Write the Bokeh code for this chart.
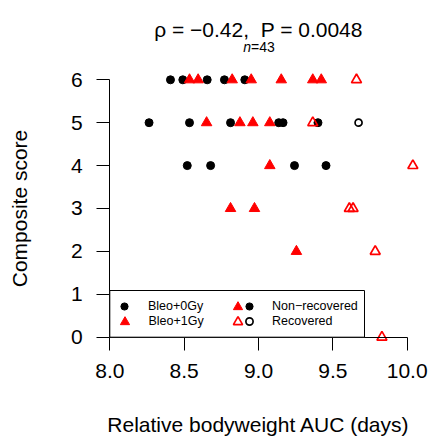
from bokeh.plotting import figure
from bokeh.models import (ColumnDataSource, LinearAxis, FixedTicker, Legend,
                          LegendItem, Label, Range1d, BoxAnnotation)
from bokeh.embed import file_html
from bokeh.resources import INLINE

# ---------------- data ----------------
# Bleo+0Gy, non-recovered (filled black circles)
bleo0_nonrec_auc = [8.408, 8.491, 8.655, 8.771, 8.908,
                    8.264, 8.536, 8.812, 9.136, 9.165, 9.400,
                    8.521, 8.678, 9.242, 9.454]
bleo0_nonrec_score = [6, 6, 6, 6, 6,
                      5, 5, 5, 5, 5, 5,
                      4, 4, 4, 4]
# Bleo+0Gy, recovered (open black circles)
bleo0_rec_auc = [9.673]
bleo0_rec_score = [5]
# Bleo+1Gy, non-recovered (filled red triangles)
bleo1_nonrec_auc = [8.536, 8.594, 8.823, 8.951, 9.153, 9.365, 9.422,
                    8.651, 8.875, 8.962, 9.076,
                    9.076,
                    8.812, 8.973,
                    9.255]
bleo1_nonrec_score = [6, 6, 6, 6, 6, 6, 6,
                      5, 5, 5, 5,
                      4,
                      3, 3,
                      2]
# Bleo+1Gy, recovered (open red triangles)
bleo1_rec_auc = [9.659, 9.365, 10.038, 9.611, 9.636, 9.785, 9.830]
bleo1_rec_score = [6, 5, 4, 3, 3, 2, 0]

x_ticks = [8.0, 8.5, 9.0, 9.5, 10.0]
x_tick_labels = ["8.0", "8.5", "9.0", "9.5", "10.0"]
y_ticks = [0, 1, 2, 3, 4, 5, 6]
y_tick_labels = ["0", "1", "2", "3", "4", "5", "6"]

title_text = "ρ = −0.42,\u00a0\u00a0P = 0.0048"
n_label = "n"
n_value = "=43"
x_label = "Relative bodyweight AUC (days)"
y_label = "Composite score"
group_labels = ["Bleo+0Gy", "Bleo+1Gy"]
status_labels = ["Non−recovered", "Recovered"]

# ---------------- styling ----------------
FONT = "Liberation Sans"
RED = "#FF0000"
BLACK = "#000000"
W, H = 428, 440

p = figure(width=W, height=H, output_backend="svg", toolbar_location=None,
           tools="", x_range=Range1d(7.26496, 10.14324),
           y_range=Range1d(-2.40793, 7.84848),
           x_axis_location=None, y_axis_location=None,
           min_border=0, min_border_left=0, min_border_right=0,
           min_border_top=0, min_border_bottom=0,
           outline_line_color=None, background_fill_color="white",
           border_fill_color="white")
p.xgrid.visible = False
p.ygrid.visible = False

# ---------------- points ----------------
src_c_nr = ColumnDataSource(dict(x=bleo0_nonrec_auc, y=bleo0_nonrec_score))
src_c_r = ColumnDataSource(dict(x=bleo0_rec_auc, y=bleo0_rec_score))
src_t_nr = ColumnDataSource(dict(x=bleo1_nonrec_auc, y=bleo1_nonrec_score))
src_t_r = ColumnDataSource(dict(x=bleo1_rec_auc, y=bleo1_rec_score))

r_c_nr = p.scatter("x", "y", source=src_c_nr, marker="circle", size=8,
                   fill_color=BLACK, line_color=BLACK, line_width=1)
r_c_r = p.scatter("x", "y", source=src_c_r, marker="circle", size=7,
                  fill_color=None, line_color=BLACK, line_width=1.7)
r_t_nr = p.scatter("x", "y", source=src_t_nr, marker="triangle", size=10.5,
                   fill_color=RED, line_color=RED, line_width=1)
r_t_r = p.scatter("x", "y", source=src_t_r, marker="triangle", size=10,
                  fill_color=None, line_color=RED, line_width=1.7)

# ---------------- axes ----------------
xaxis = LinearAxis(fixed_location=y_ticks[0], bounds=(x_ticks[0], x_ticks[-1]),
                   ticker=FixedTicker(ticks=x_ticks),
                   major_label_overrides=dict(zip(x_ticks, x_tick_labels)),
                   axis_label=x_label)
yaxis = LinearAxis(fixed_location=x_ticks[0], bounds=(y_ticks[0], y_ticks[-1]),
                   ticker=FixedTicker(ticks=y_ticks),
                   major_label_overrides=dict(zip(y_ticks, y_tick_labels)),
                   axis_label=y_label)
for ax in (xaxis, yaxis):
    ax.axis_line_color = BLACK
    ax.axis_line_width = 1
    ax.major_tick_line_color = BLACK
    ax.major_tick_line_width = 1
    ax.major_tick_out = 13
    ax.major_tick_in = 0
    ax.minor_tick_line_color = None
    ax.major_label_text_font = FONT
    ax.major_label_text_font_size = "21px"
    ax.major_label_text_color = BLACK
    ax.major_label_standoff = 14
    ax.axis_label_text_font = FONT
    ax.axis_label_text_font_size = "21px"
    ax.axis_label_text_font_style = "normal"
    ax.axis_label_text_color = BLACK
xaxis.axis_label_standoff = 31
yaxis.axis_label_standoff = 37
yaxis.major_label_orientation = "horizontal"
p.add_layout(xaxis, "below")
p.add_layout(yaxis, "left")

# ---------------- title texts ----------------
x_mid = (x_ticks[0] + x_ticks[-1]) / 2
p.add_layout(Label(x=x_mid, y=H - 29, x_units="data", y_units="screen",
                   text=title_text, text_align="center",
                   text_baseline="alphabetic", text_font=FONT,
                   text_font_size="21px", text_color=BLACK))
p.add_layout(Label(x=x_mid, y=H - 46, x_units="data", y_units="screen",
                   x_offset=-7.5, text=n_label, text_align="right",
                   text_baseline="alphabetic", text_font=FONT,
                   text_font_style="italic",
                   text_font_size="14px", text_color=BLACK))
p.add_layout(Label(x=x_mid, y=H - 46, x_units="data", y_units="screen",
                   x_offset=-7.5, text=n_value, text_align="left",
                   text_baseline="alphabetic", text_font=FONT,
                   text_font_size="14px", text_color=BLACK))

# ---------------- legend ----------------
# frame of the legend box
p.add_layout(BoxAnnotation(left=x_ticks[0], bottom=y_ticks[0],
                           right=364, top=H - 290,
                           left_units="data", bottom_units="data",
                           right_units="screen", top_units="screen",
                           fill_color="white", fill_alpha=1.0,
                           line_color=BLACK, line_width=1, line_alpha=1.0))

ROW1, ROW2 = 306, 321          # row centres (px from top)
CIRC_G, TRI_G = 18, 23         # glyph box sizes -> marker sizes 7.2 / 9.2


def add_entry(renderer, label, cx, cy, g, standoff):
    leg = Legend(items=[LegendItem(label=label, renderers=[renderer])],
                 location=(cx - g / 2, H - (cy + g / 2)),
                 glyph_width=g, glyph_height=g, padding=0, margin=0,
                 spacing=0, label_standoff=standoff, label_height=10,
                 label_width=0,
                 label_text_font=FONT, label_text_font_size="12.5px",
                 label_text_color=BLACK, border_line_color=None,
                 background_fill_alpha=0.0)
    p.add_layout(leg)


add_entry(r_c_nr, group_labels[0], 124, ROW1, CIRC_G, 15)
add_entry(r_t_nr, group_labels[1], 124, ROW2, TRI_G, 13)
add_entry(r_t_nr, "", 237.3, ROW1, TRI_G, 0)
add_entry(r_t_r, "", 237.3, ROW2, TRI_G, 0)
add_entry(r_c_nr, status_labels[0], 249, ROW1, CIRC_G, 14)
add_entry(r_c_r, status_labels[1], 249, ROW2, CIRC_G, 14)

open("out.html", "w").write(file_html(p, INLINE))
